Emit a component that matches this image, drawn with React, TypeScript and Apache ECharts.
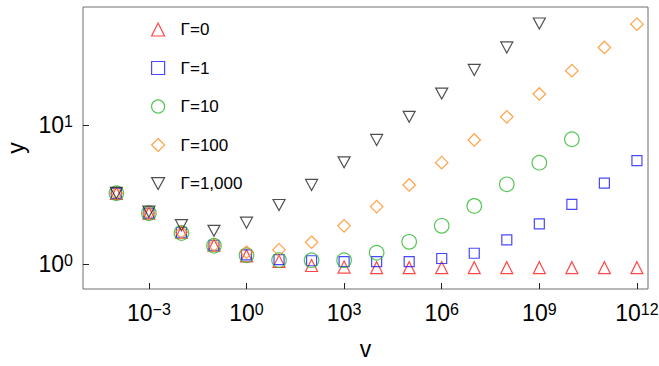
import React, { useEffect, useRef } from "react";
import * as echarts from "echarts";

const V_VALUES = [1e-4, 1e-3, 1e-2, 1e-1, 1e0, 1e1, 1e2, 1e3, 1e4, 1e5, 1e6, 1e7, 1e8, 1e9, 1e10, 1e11, 1e12];

const G0 = [3.24, 2.33, 1.7, 1.37, 1.15, 1.05, 0.98, 0.955, 0.945, 0.945, 0.945, 0.945, 0.945, 0.945, 0.945, 0.945, 0.945];
const G1 = [3.24, 2.33, 1.7, 1.37, 1.17, 1.08, 1.06, 1.045, 1.045, 1.045, 1.1, 1.2, 1.5, 1.95, 2.7, 3.84, 5.57];
const G10 = [3.24, 2.33, 1.68, 1.36, 1.16, 1.07, 1.07, 1.07, 1.21, 1.45, 1.89, 2.63, 3.76, 5.38, 7.94, null, null];
const G100 = [3.24, 2.33, 1.7, 1.37, 1.22, 1.27, 1.44, 1.89, 2.6, 3.72, 5.38, 7.84, 11.5, 16.8, 24.7, 36.3, 53.4];
const G1000 = [3.26, 2.39, 1.91, 1.74, 1.99, 2.67, 3.72, 5.41, 7.84, 11.5, 16.9, 25.0, 36.3, 54.0, null, null, null];

const SERIES_NAMES = ["Γ=0", "Γ=1", "Γ=10", "Γ=100", "Γ=1,000"];
const X_TICKS = [1e-3, 1e0, 1e3, 1e6, 1e9, 1e12];
const Y_TICKS = [1e0, 1e1];

const FONT = "'Liberation Sans', Arial, Helvetica, sans-serif";
const DOWN_TRIANGLE = "path://M0,0L12,0L6,11Z";

function pairs(ys: (number | null)[]) {
  const out: number[][] = [];
  ys.forEach((y, i) => {
    if (y != null) out.push([V_VALUES[i], y]);
  });
  return out;
}

function powLabel(value: number) {
  const e = Math.round(Math.log10(value));
  if (Math.abs(Math.log10(value) - e) > 1e-6) return "";
  const s = e < 0 ? "\u2212" + Math.abs(e) : String(e);
  return "{b|10}{sup|" + s + "}";
}

const rich = {
  b: { fontSize: 23, lineHeight: 24, color: "#000", fontFamily: FONT },
  sup: { fontSize: 16, lineHeight: 16, color: "#000", fontFamily: FONT, verticalAlign: "top" as const },
};

export default function App() {
  const ref = useRef<HTMLDivElement>(null);
  useEffect(() => {
    if (!ref.current) return;
    const chart = echarts.init(ref.current, null, { renderer: "svg" });
    const specs = [
      { data: G0, color: "#ff1a1a", symbol: "triangle", size: 12 },
      { data: G1, color: "#1a1aff", symbol: "rect", size: 10 },
      { data: G10, color: "#2db82d", symbol: "circle", size: 14.5 },
      { data: G100, color: "#ff8c1a", symbol: "diamond", size: 12.5 },
      { data: G1000, color: "#222222", symbol: DOWN_TRIANGLE, size: 12 },
    ];
    chart.setOption({
      animation: false,
      textStyle: { fontFamily: FONT },
      grid: {
        left: 83,
        right: 11,
        top: 7,
        bottom: 77,
        show: true,
        borderColor: "#6e6e6e",
        borderWidth: 1,
        containLabel: false,
        outerBoundsMode: "none",
      },
      legend: {
        orient: "vertical",
        left: 151,
        top: 21,
        padding: 0,
        itemWidth: 13,
        itemHeight: 13,
        itemGap: 21.5,
        textStyle: { fontSize: 17, lineHeight: 17, color: "#000", fontFamily: FONT, padding: [0, 0, 0, 11] },
        data: SERIES_NAMES.map((n, i) => ({
          name: n,
          icon: specs[i].symbol,
          itemStyle: { color: "rgba(0,0,0,0)", borderColor: specs[i].color, borderWidth: 1.2 },
        })),
      },
      xAxis: {
        type: "log",
        logBase: 10,
        min: Math.pow(10, -5.025),
        max: Math.pow(10, 12.34),
        name: "v",
        nameLocation: "middle",
        nameGap: 48,
        nameTextStyle: { fontSize: 23, color: "#000", fontFamily: FONT },
        axisLine: { show: false },
        splitLine: { show: false },
        minorTick: { show: false },
        axisTick: { show: true, inside: true, length: 6, lineStyle: { color: "#222", width: 1 }, customValues: X_TICKS },
        axisLabel: { margin: 12, fontSize: 23, color: "#000", formatter: powLabel, rich, customValues: X_TICKS },
      },
      yAxis: {
        type: "log",
        logBase: 10,
        min: Math.pow(10, -0.178),
        max: Math.pow(10, 1.851),
        name: "y",
        nameLocation: "middle",
        nameGap: 54,
        nameTextStyle: { fontSize: 23, color: "#000", fontFamily: FONT },
        axisLine: { show: false },
        splitLine: { show: false },
        minorTick: { show: false },
        axisTick: { show: true, inside: true, length: 6, lineStyle: { color: "#222", width: 1 }, customValues: Y_TICKS },
        axisLabel: { margin: 10, fontSize: 23, color: "#000", formatter: powLabel, rich, customValues: Y_TICKS },
      },
      series: specs.map((s, i) => ({
        name: SERIES_NAMES[i],
        type: "scatter",
        data: pairs(s.data),
        symbol: s.symbol,
        symbolSize: s.size,
        symbolKeepAspect: true,
        itemStyle: { color: "rgba(0,0,0,0)", borderColor: s.color, borderWidth: 1.2 },
        emphasis: { disabled: true },
      })),
    });
    return () => chart.dispose();
  }, []);
  return <div ref={ref} style={{ position: "fixed", left: 0, top: 0, width: 659, height: 366, background: "#fff" }} />;
}
